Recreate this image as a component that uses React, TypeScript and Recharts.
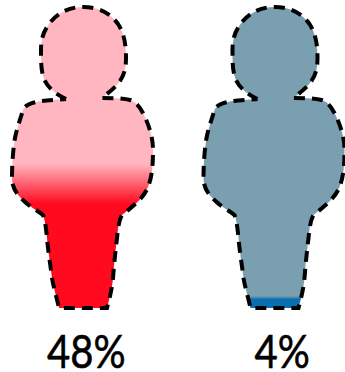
import { BarChart, Bar, XAxis, YAxis } from "recharts";

const labels = ["48%", "4%"];
const shares = [48, 4];
const baseColors = ["#ffb6c1", "#7a9fb0"];
const fillColors = ["#ff0a1e", "#0a6fae"];

// person outline, drawn in a 141 x 301 box
const PERSON =
  "M54,92 C46,88 37,83 32,72 C29,64 29,54 29,43 C29,33 31,26 35,20 C43,7 56,0 71,0 " +
  "C87,0 98,6 106,17 C112,26 114,37 114,51 C114,62 112,68 108,74 C103,81 96,86 90,91 " +
  "C98,91 110,91 118,93 C125,95 129,102 132,108 C137,119 141,130 141,143 " +
  "C141,158 140,170 136,180 C132,190 124,197 110,208 C107,213 106,221 105,231 " +
  "C103,248 102,258 101,271 C100,283 97,293 95,301 L47,301 C44,288 41,278 40,271 " +
  "C38,255 36,243 35,231 C34,221 33,213 31,208 C25,203 18,200 12,194 " +
  "C4,187 0,180 0,171 C0,158 1,143 3,131 C5,121 8,113 11,103 C14,97 20,96 24,95 C33,93 46,93 54,92";

function Person(props: any) {
  const { x, width, background, index, value } = props;
  const top = background.y;
  const h = background.height;
  const level = 1 - value / 100;
  const blend = (value / 100) * 0.28;
  const id = "level" + index;
  return (
    <g transform={`translate(${x},${top}) scale(${width / 141},${h / 301})`}>
      <defs>
        <linearGradient id={id} x1="0" y1="0" x2="0" y2="1">
          <stop offset={level} stopColor={baseColors[index]} />
          <stop offset={level + blend} stopColor={fillColors[index]} />
        </linearGradient>
      </defs>
      <path
        d={PERSON}
        fill={`url(#${id})`}
        stroke="#000"
        strokeWidth={4}
        strokeDasharray="11 7"
        vectorEffect="non-scaling-stroke"
      />
    </g>
  );
}

function PercentTick(props: any) {
  const { x, y, payload, index } = props;
  const tx = x + (index === 0 ? 3.5 : 8);
  return (
    <g transform={`translate(${tx},${y + 52}) scale(0.87,1)`}>
      <text textAnchor="middle" fontFamily="Lato" fontSize={46} fill="#000" stroke="#000" strokeWidth={0.6}>
        {payload.value}
      </text>
    </g>
  );
}

const data = labels.map((label, i) => ({ label, share: shares[i] }));

export default function App() {
  return (
    <div style={{ position: "absolute", left: 0, top: 0, width: 345, height: 372, overflow: "hidden" }}>
      <div style={{ position: "absolute", left: -13, top: 0 }}>
        <BarChart
          width={383}
          height={372}
          data={data}
          margin={{ top: 7, right: 0, bottom: 0, left: 0 }}
          barSize={141}
        >
          <XAxis
            dataKey="label"
            height={64}
            axisLine={false}
            tickLine={false}
            interval={0}
            tick={<PercentTick />}
          />
          <YAxis hide domain={[0, 100]} />
          <Bar dataKey="share" shape={<Person />} isAnimationActive={false} />
        </BarChart>
      </div>
    </div>
  );
}
